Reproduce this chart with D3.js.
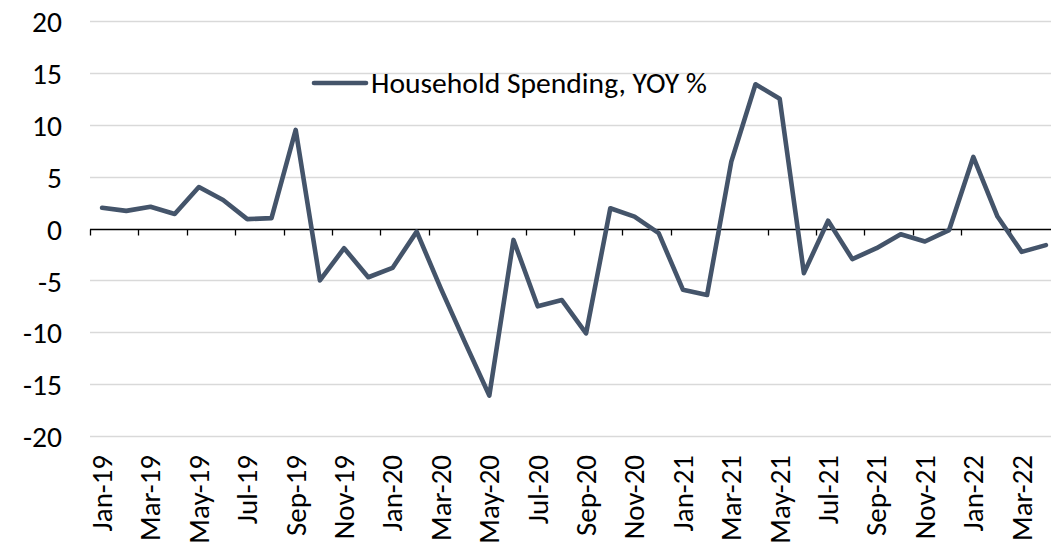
<!DOCTYPE html>
<html><head><meta charset="utf-8">
<script src="https://cdn.jsdelivr.net/npm/d3@7"></script>
<style>body{margin:0;background:#fff;overflow:hidden}svg{display:block}</style>
</head><body>
<svg id="c" width="1051" height="544"></svg>
<script>
const months = ["Jan-19","Feb-19","Mar-19","Apr-19","May-19","Jun-19","Jul-19","Aug-19","Sep-19","Oct-19","Nov-19","Dec-19",
"Jan-20","Feb-20","Mar-20","Apr-20","May-20","Jun-20","Jul-20","Aug-20","Sep-20","Oct-20","Nov-20","Dec-20",
"Jan-21","Feb-21","Mar-21","Apr-21","May-21","Jun-21","Jul-21","Aug-21","Sep-21","Oct-21","Nov-21","Dec-21",
"Jan-22","Feb-22","Mar-22","Apr-22"];
const spending = [2.0,1.7,2.1,1.4,4.0,2.75,0.9,1.0,9.5,-5.0,-1.9,-4.7,
-3.8,-0.3,-5.8,-11.0,-16.1,-1.1,-7.5,-6.9,-10.1,1.95,1.15,-0.45,
-5.9,-6.4,6.45,13.9,12.5,-4.3,0.75,-2.95,-1.9,-0.55,-1.25,-0.15,
6.9,1.15,-2.25,-1.6];
const yTicks = [-20,-15,-10,-5,0,5,10,15,20];
const seriesName = "Household Spending, YOY %";

(function () {
const svg = d3.select("#c");
const mL = 90, mT = 21, plotW = 968, plotH = 415;
const x = d3.scaleBand().domain(months).range([mL, mL + plotW]).padding(0);
const y = d3.scaleLinear().domain([-20, 20]).range([mT + plotH, mT]);
const font = "Carlito, Calibri, 'Open Sans', sans-serif";

// measure font to fit reference text widths
function fit(str, target) {
  const t = svg.append("text").attr("font-family", font).attr("font-size", 100).text(str);
  const w = t.node().getComputedTextLength();
  t.remove();
  return 100 * target / w;
}
const fsX = fit("Mar-19", 86);
const fsY = fit("-20", 39);
const fsL = fit(seriesName, 336);

// gridlines
svg.append("g").selectAll("line").data(yTicks.filter(d => d !== 0)).join("line")
  .attr("x1", mL).attr("x2", mL + plotW)
  .attr("y1", d => Math.round(y(d)) + 0.5).attr("y2", d => Math.round(y(d)) + 0.5)
  .attr("stroke", "#d9d9d9").attr("stroke-width", 1.5);

// y axis labels
const yAxis = d3.axisLeft(y).tickValues(yTicks).tickSize(0).tickPadding(0).tickFormat(d => String(d));
const gy = svg.append("g").attr("transform", `translate(${mL - 28},0)`).call(yAxis);
gy.select(".domain").remove();
gy.selectAll("text").attr("font-family", font).attr("font-size", fsY).attr("fill", "#000").attr("dy", "0.36em");

// zero axis with ticks
const zeroY = Math.round(y(0)) + 0.5;
const tickIdx = months.map((m, i) => i).filter(i => i % 2 === 0);
const gx = svg.append("g");
gx.append("line").attr("x1", mL).attr("x2", mL + plotW).attr("y1", zeroY).attr("y2", zeroY)
  .attr("stroke", "#000").attr("stroke-width", 1.3);
gx.selectAll("line.t").data(tickIdx).join("line").attr("class", "t")
  .attr("x1", i => Math.round(x(months[i])) + 0.5).attr("x2", i => Math.round(x(months[i])) + 0.5)
  .attr("y1", zeroY).attr("y2", zeroY + 6).attr("stroke", "#000").attr("stroke-width", 1.3);

// x labels at bottom, rotated
const labelY = mT + plotH + 19;
svg.append("g").selectAll("text").data(months.filter((m, i) => i % 2 === 0)).join("text")
  .attr("transform", d => `translate(${x(d) + x.bandwidth() / 2},${labelY}) rotate(-90)`)
  .attr("text-anchor", "end").attr("dy", "0.34em").attr("font-family", font).attr("font-size", fsX).attr("fill", "#000")
  .text(d => d);

// line
const line = d3.line().x((d, i) => x(months[i]) + x.bandwidth() / 2).y(d => y(d));
svg.append("path").datum(spending).attr("d", line).attr("fill", "none")
  .attr("stroke", "#44546a").attr("stroke-width", 4.6).attr("stroke-linejoin", "round").attr("stroke-linecap", "round");

// legend
const lg = svg.append("g");
lg.append("line").attr("x1", 314).attr("x2", 366).attr("y1", 83).attr("y2", 83)
  .attr("stroke", "#44546a").attr("stroke-width", 4.6).attr("stroke-linecap", "round");
lg.append("text").attr("x", 371).attr("y", 83).attr("dy", "0.34em")
  .attr("font-family", font).attr("font-size", fsL).attr("fill", "#000")
  .text(seriesName);
})();
</script>
</body></html>
